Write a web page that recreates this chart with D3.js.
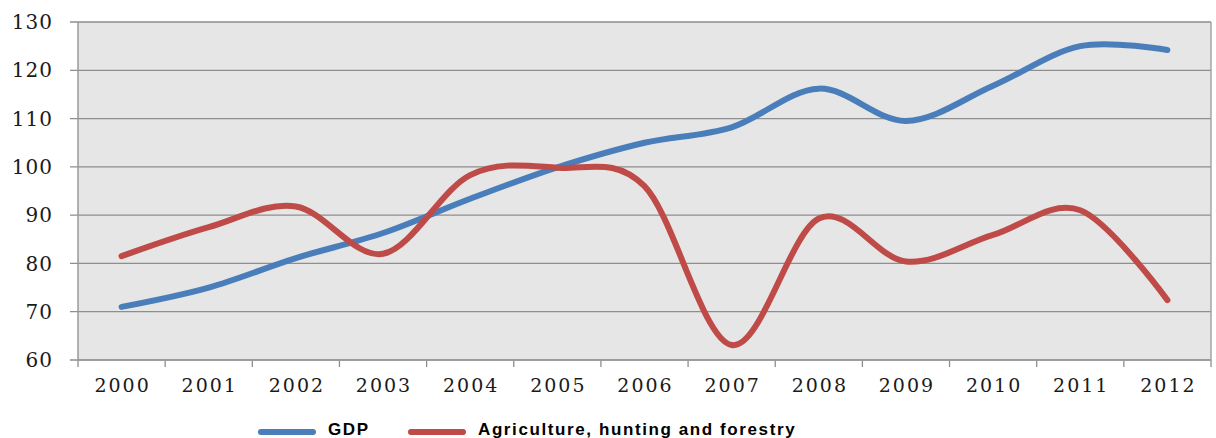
<!DOCTYPE html>
<html>
<head>
<meta charset="utf-8">
<script src="https://cdn.jsdelivr.net/npm/d3@7"></script>
<style>
  body { margin: 0; background: #fff; }
  .ylab, .xlab { font-family: "DejaVu Serif", serif; fill: #1a1a1a; }
  .leg { font-family: "Liberation Sans", Arial, sans-serif; font-weight: bold; font-size: 17px; letter-spacing: 1.6px; fill: #000; }
</style>
</head>
<body>
<div id="chart"></div>
<script>
// dados
const anos = ["2000","2001","2002","2003","2004","2005","2006","2007","2008","2009","2010","2011","2012"];
const gdp = [71, 75, 81.1, 86.3, 93.4, 99.9, 105, 108.2, 116.2, 109.5, 116.8, 125, 124.2];
const agricultura = [81.5, 87.5, 91.8, 82, 98.3, 99.8, 96, 63.1, 89.3, 80.4, 85.9, 91, 72.4];
const ticksY = [60, 70, 80, 90, 100, 110, 120, 130];

const series = [
  { nome: "GDP", valores: gdp, cor: "#4a7ebb" },
  { nome: "Agriculture, hunting and forestry", valores: agricultura, cor: "#be4b48" }
];

const W = 1216, H = 438;
const margin = { top: 22, right: 5, bottom: 78, left: 78 };
const width = W - margin.left - margin.right;
const height = H - margin.top - margin.bottom;

const svg = d3.select("#chart").append("svg")
    .attr("width", W)
    .attr("height", H)
  .append("g")
    .attr("transform", `translate(${margin.left},${margin.top})`);

const x = d3.scaleBand().domain(anos).range([0, width]);
const y = d3.scaleLinear().domain([60, 130]).range([height, 0]);

// fundo da área do gráfico
svg.append("rect")
  .attr("width", width)
  .attr("height", height)
  .attr("fill", "#e6e6e6");

// linhas de grade + marcas à esquerda
svg.selectAll(".grid")
  .data(ticksY)
  .join("line")
    .attr("x1", -8)
    .attr("x2", width)
    .attr("y1", d => y(d))
    .attr("y2", d => y(d))
    .attr("stroke", "#8e8e8e")
    .attr("stroke-width", 1.3);

svg.selectAll(".ylab")
  .data(ticksY)
  .join("text")
    .attr("class", "ylab")
    .attr("x", -25)
    .attr("y", d => y(d))
    .attr("dy", "0.36em")
    .attr("text-anchor", "end")
    .style("font-size", "20px")
    .style("letter-spacing", "1px")
    .text(d => d);

// eixos verticais (esquerda e direita)
svg.append("line")
  .attr("x1", 0).attr("x2", 0).attr("y1", 0).attr("y2", height)
  .attr("stroke", "#9a9a9a").attr("stroke-width", 1.5);
svg.append("line")
  .attr("x1", width).attr("x2", width).attr("y1", 0).attr("y2", height)
  .attr("stroke", "#9a9a9a").attr("stroke-width", 1.3);

// eixo x com marcas entre as categorias
const bordas = anos.map(d => x(d)).concat([width]);
svg.selectAll(".xtick")
  .data(bordas)
  .join("line")
    .attr("x1", d => d).attr("x2", d => d)
    .attr("y1", height).attr("y2", height + 7)
    .attr("stroke", "#8e8e8e").attr("stroke-width", 1.3);

svg.append("line")
  .attr("x1", 0).attr("x2", width).attr("y1", height).attr("y2", height)
  .attr("stroke", "#9a9a9a").attr("stroke-width", 1.5);

svg.selectAll(".xlab")
  .data(anos)
  .join("text")
    .attr("class", "xlab")
    .attr("x", d => x(d) + x.bandwidth() / 2 + 1)
    .attr("y", height + 32)
    .attr("text-anchor", "middle")
    .style("font-size", "19px")
    .style("letter-spacing", "2px")
    .text(d => d);

// linhas suavizadas
const linha = d3.line()
  .x((d, i) => x(anos[i]) + x.bandwidth() / 2)
  .y(d => y(d))
  .curve(d3.curveCardinal.tension(0));

svg.selectAll(".serie")
  .data(series)
  .join("path")
    .attr("class", "serie")
    .attr("fill", "none")
    .attr("stroke", d => d.cor)
    .attr("stroke-width", 6)
    .attr("stroke-linecap", "round")
    .attr("stroke-linejoin", "round")
    .attr("d", d => linha(d.valores));

// legenda
const legX = [180, 330];
const legenda = svg.selectAll(".legenda")
  .data(series)
  .join("g")
    .attr("class", "legenda")
    .attr("transform", (d, i) => `translate(${legX[i]},${height + 72})`);

legenda.append("line")
  .attr("x1", 3).attr("x2", 55)
  .attr("stroke", d => d.cor)
  .attr("stroke-width", 6)
  .attr("stroke-linecap", "round");

legenda.append("text")
  .attr("class", "leg")
  .attr("x", 70)
  .attr("y", 3)
  .text(d => d.nome);
</script>
</body>
</html>
